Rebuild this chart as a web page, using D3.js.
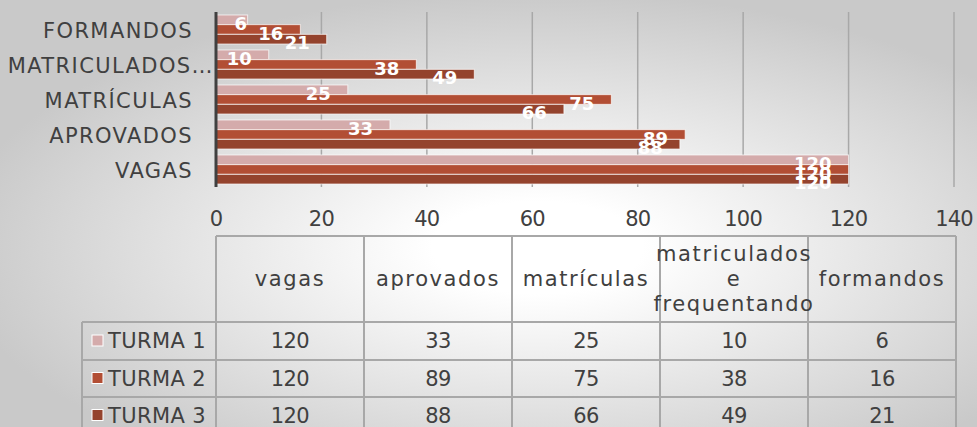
<!DOCTYPE html>
<html>
<head>
<meta charset="utf-8">
<script src="https://cdn.jsdelivr.net/npm/d3@7"></script>
<style>
  html, body { margin: 0; padding: 0; }
  body { width: 977px; height: 427px; overflow: hidden; }
  svg text { font-family: "DejaVu Sans", sans-serif; }
</style>
</head>
<body>
<div id="chart-area"></div>
<script>
const categories = ["vagas", "aprovados", "matrículas", "matriculados e frequentando", "formandos"];
const axisLabels = ["VAGAS", "APROVADOS", "MATRÍCULAS", "MATRICULADOS…", "FORMANDOS"];
const series = ["TURMA 1", "TURMA 2", "TURMA 3"];
const turma1 = [120, 33, 25, 10, 6];
const turma2 = [120, 89, 75, 38, 16];
const turma3 = [120, 88, 66, 49, 21];
const xTicks = [0, 20, 40, 60, 80, 100, 120, 140];

const colors = ["#d4abab", "#b24e34", "#94432d"];
const values = [turma1, turma2, turma3];

const drawChart = () => {
  const chartSize = { width: 977, height: 427 };
  const plot = { left: 216, right: 954, top: 12, bottom: 187 };

  const svg = d3.select("#chart-area")
    .append("svg")
    .attr("width", chartSize.width)
    .attr("height", chartSize.height);

  // background gradient
  const defs = svg.append("defs");
  const grad = defs.append("radialGradient")
    .attr("id", "bg")
    .attr("cx", "55%").attr("cy", "58%").attr("r", "60%");
  grad.append("stop").attr("offset", "0.18").attr("stop-color", "#ffffff");
  grad.append("stop").attr("offset", "1").attr("stop-color", "#c9c9c9");
  svg.append("rect")
    .attr("width", chartSize.width)
    .attr("height", chartSize.height)
    .attr("fill", "url(#bg)");

  const x = d3.scaleLinear().domain([0, 140]).range([plot.left, plot.right]);

  // categories top to bottom: formandos first
  const y = d3.scaleBand()
    .domain(d3.range(categories.length).reverse())
    .range([plot.top, plot.bottom])
    .paddingInner(0.17)
    .paddingOuter(0.085);

  const ys = d3.scaleBand()
    .domain(series)
    .range([0, y.bandwidth()]);

  // gridlines
  svg.append("g")
    .selectAll("line")
    .data(xTicks.slice(1))
    .join("line")
    .attr("x1", d => x(d)).attr("x2", d => x(d))
    .attr("y1", plot.top).attr("y2", plot.bottom)
    .attr("stroke", "#a8a8a8")
    .attr("stroke-width", 1.5);

  // bars
  const groups = svg.append("g")
    .selectAll("g")
    .data(series)
    .join("g")
    .attr("fill", (d, i) => colors[i]);

  groups.selectAll("rect")
    .data((s, si) => values[si].map((v, ci) => ({ s, v, ci })))
    .join("rect")
    .attr("x", x(0))
    .attr("y", d => y(d.ci) + ys(d.s))
    .attr("width", d => x(d.v) - x(0))
    .attr("height", ys.bandwidth())
    .attr("stroke", "rgba(255,255,255,0.7)")
    .attr("stroke-width", 1);

  // data labels (white, a little below bar centre)
  const labels = svg.append("g");
  series.forEach((s, si) => {
    labels.selectAll(null)
      .data(values[si].map((v, ci) => ({ v, ci })))
      .join("text")
      .attr("x", d => Math.max(x(d.v) - 17, x(0) + 31))
      .attr("y", d => y(d.ci) + ys(s) + ys.bandwidth() / 2 + 10)
      .attr("text-anchor", "end")
      .attr("fill", "#ffffff")
      .attr("font-weight", "bold")
      .attr("font-size", 18)
      .text(d => d.v);
  });

  // vertical axis line
  svg.append("line")
    .attr("x1", plot.left).attr("x2", plot.left)
    .attr("y1", plot.top).attr("y2", plot.bottom)
    .attr("stroke", "#404040")
    .attr("stroke-width", 3);

  // category labels
  svg.append("g")
    .selectAll("text")
    .data(axisLabels)
    .join("text")
    .attr("x", (d, i) => i === 3 ? 214 : 193)
    .attr("y", (d, i) => y(i) + y.bandwidth() / 2 + 8)
    .attr("text-anchor", "end")
    .attr("fill", "#404040")
    .attr("font-size", 21)
    .attr("letter-spacing", 1.4)
    .text(d => d);

  // x tick labels
  svg.append("g")
    .selectAll("text")
    .data(xTicks)
    .join("text")
    .attr("x", d => x(d))
    .attr("y", 226)
    .attr("text-anchor", "middle")
    .attr("fill", "#404040")
    .attr("font-size", 21)
    .attr("letter-spacing", -0.8)
    .text(d => d);

  // data table
  const col = d3.scaleBand()
    .domain(categories)
    .range([216, 956]);
  const rowTops = [236, 322, 360, 397, 434];
  const legendLeft = 82;
  const tbl = svg.append("g")
    .attr("stroke", "#a8a8a8")
    .attr("stroke-width", 2);

  // horizontal lines
  rowTops.forEach((ry, i) => {
    tbl.append("line")
      .attr("x1", i === 0 ? 216 : legendLeft)
      .attr("x2", 956)
      .attr("y1", ry).attr("y2", ry);
  });
  // vertical lines
  categories.forEach(c => {
    tbl.append("line")
      .attr("x1", col(c)).attr("x2", col(c))
      .attr("y1", rowTops[0]).attr("y2", 427);
  });
  tbl.append("line")
    .attr("x1", 956).attr("x2", 956)
    .attr("y1", rowTops[0]).attr("y2", 427);
  tbl.append("line")
    .attr("x1", legendLeft).attr("x2", legendLeft)
    .attr("y1", rowTops[1]).attr("y2", 427);

  // header text
  const header = svg.append("g")
    .attr("fill", "#404040")
    .attr("font-size", 21)
    .attr("text-anchor", "middle");
  categories.forEach(c => {
    const words = c === "matriculados e frequentando" ? ["matriculados", "e", "frequentando"] : [c];
    const cx = col(c) + col.bandwidth() / 2;
    const midY = (rowTops[0] + rowTops[1]) / 2;
    words.forEach((w, wi) => {
      header.append("text")
        .attr("x", cx)
        .attr("y", midY + 7 + (wi - (words.length - 1) / 2) * 25)
        .attr("letter-spacing", 1.6)
        .text(w);
    });
  });

  // rows
  series.forEach((s, si) => {
    const top = rowTops[si + 1];
    const mid = (top + rowTops[si + 2]) / 2;
    svg.append("rect")
      .attr("x", 92).attr("y", mid - 6)
      .attr("width", 11).attr("height", 11)
      .attr("fill", colors[si])
      .attr("stroke", "#ffffff")
      .attr("stroke-width", 1);
    svg.append("text")
      .attr("x", 108).attr("y", mid + 7)
      .attr("fill", "#404040")
      .attr("font-size", 21)
      .attr("letter-spacing", 0.4)
      .text(s);
    svg.append("g")
      .selectAll("text")
      .data(values[si])
      .join("text")
      .attr("x", (d, i) => col(categories[i]) + col.bandwidth() / 2)
      .attr("y", mid + 7)
      .attr("text-anchor", "middle")
      .attr("fill", "#404040")
      .attr("font-size", 21)
      .attr("letter-spacing", -0.6)
      .text(d => d);
  });
};

window.onload = drawChart;
</script>
</body>
</html>
